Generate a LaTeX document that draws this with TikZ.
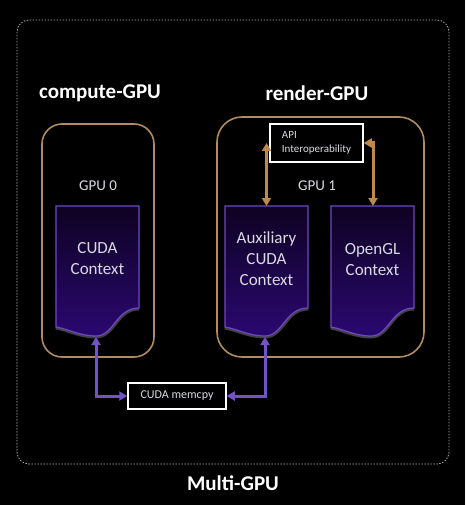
\documentclass[tikz,border=0pt]{standalone}
\usepackage{fontspec}
\setmainfont{Carlito}
\usepackage{xcolor}
\usepackage{tikz}
\usetikzlibrary{arrows.meta}

\definecolor{gpuTan}{RGB}{176,140,96}
\definecolor{linkTan}{RGB}{192,136,72}
\definecolor{ctxEdge}{RGB}{112,72,196}
\definecolor{ctxTop}{RGB}{14,2,34}
\definecolor{ctxBot}{RGB}{42,8,112}
\definecolor{linkPurple}{RGB}{114,82,196}
\definecolor{ctxText}{RGB}{218,218,228}
\definecolor{frameGray}{RGB}{170,170,170}

\tikzset{
  title/.style={text=white, font=\fontsize{21}{24}\selectfont\bfseries},
  gpulabel/.style={text=ctxText, font=\fontsize{15}{18}\selectfont},
  ctxtext/.style={text=ctxText, align=center, font=\fontsize{17}{21}\selectfont},
  gpubox/.style={draw=gpuTan, line width=1.6pt},
  linkbox/.style={draw=white, fill=black, line width=1.5pt, inner sep=0pt, text=ctxText},
  tanlink/.style={{Triangle[width=9pt,length=8pt]}-{Triangle[width=9pt,length=8pt]}, draw=linkTan, line width=3pt},
  purplelink/.style={{Triangle[width=9pt,length=8pt]}-{Triangle[width=9pt,length=8pt]}, draw=linkPurple, line width=3pt}
}

\begin{document}
\begin{tikzpicture}[x=1pt,y=-1pt]
\fill[black] (0,0) rectangle (465,505);
\useasboundingbox (0,0) rectangle (465,505);
% outer frame
\draw[frameGray, line width=0.8pt, dash pattern=on 1.5pt off 1.5pt, rounded corners=12pt] (17,20) rectangle (449,464);
\node[title] (computeTitle) at (100,93) {compute-GPU};
\node[title] (renderTitle) at (317,93) {render-GPU};
\node[title] (multiTitle) at (233,483) {Multi-GPU};
% GPU boxes
\draw[gpubox, rounded corners=20pt] (42,124) rectangle (154,357);
\draw[gpubox, rounded corners=25pt] (217,117) rectangle (424,357);
\node[gpulabel] (gpu0) at (98,186) {GPU 0};
\node[gpulabel] (gpu1) at (317,186) {GPU 1};
% context sheets
\foreach \xl in {56,225,331} {
  \draw[gray, opacity=0.5, line width=5pt] (\xl+83,308) .. controls (\xl+60,308) and (\xl+58,336) .. (\xl+40,336) .. controls (\xl+24,336) and (\xl+12,329) .. (\xl,327);
  \shade[top color=ctxTop, bottom color=ctxBot, draw=ctxEdge, line width=1.2pt] (\xl,206) -- (\xl+83,206) -- (\xl+83,308) .. controls (\xl+60,308) and (\xl+58,336) .. (\xl+40,336) .. controls (\xl+24,336) and (\xl+12,329) .. (\xl,327) -- cycle;
}
\node[ctxtext] (cudaCtx) at (97.5,258.5) {CUDA\\Context};
\node[ctxtext] (auxCtx) at (266.5,259) {Auxiliary\\CUDA\\Context};
\node[ctxtext] (glCtx) at (372.5,259.5) {OpenGL\\Context};
\coordinate (cudaBot) at (96,337);
\coordinate (auxTop) at (266.5,206);
\coordinate (auxBot) at (265,337);
\coordinate (glTop) at (373,206);
% link boxes
\node[linkbox, minimum width=98pt, minimum height=26pt, font=\fontsize{12}{14}\selectfont] (memcpy) at (177,396) {CUDA memcpy};
\node[linkbox, minimum width=93pt, minimum height=38pt, align=left, font=\fontsize{11}{13.5}\selectfont] (api) at (316.5,143) {API\\Interoperability};
% links
\draw[tanlink] (auxTop) -- (auxTop |- api.west);
\draw[tanlink] (api.east) -| (glTop);
\draw[purplelink] (memcpy.west) -| (cudaBot);
\draw[purplelink] (memcpy.east) -| (auxBot);
\end{tikzpicture}
\end{document}
